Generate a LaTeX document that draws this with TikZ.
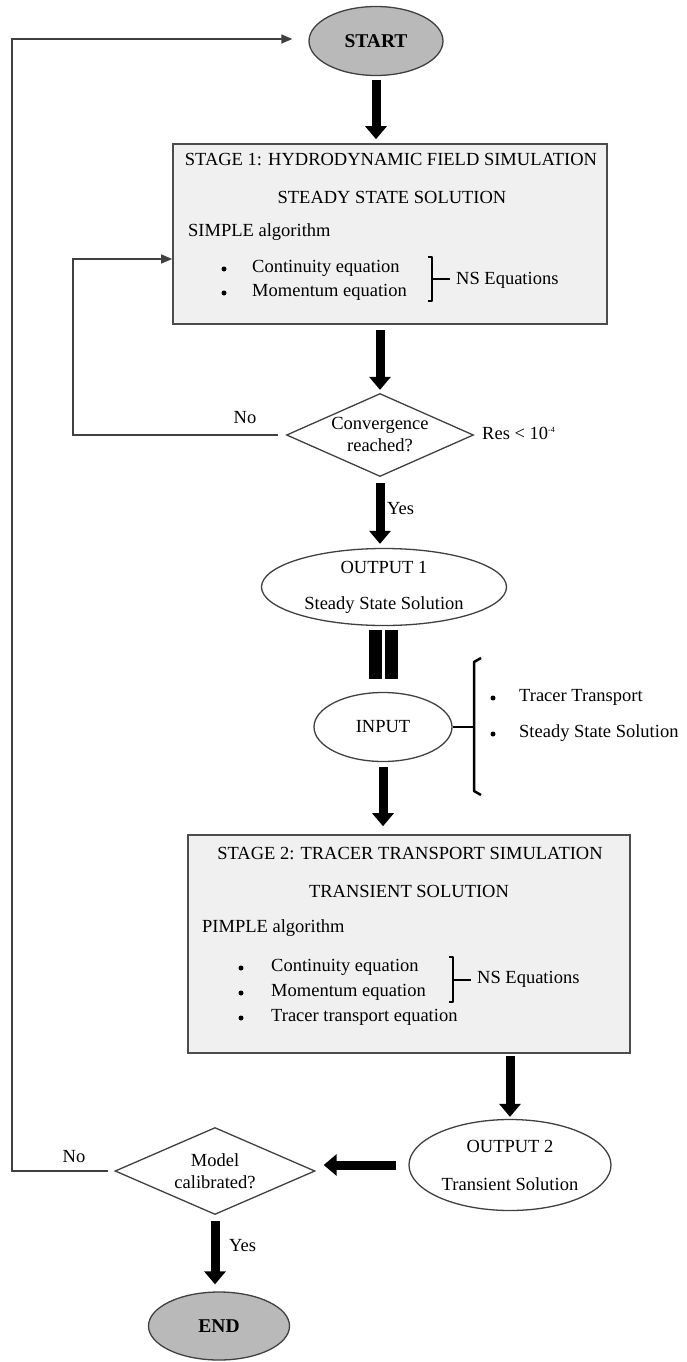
\documentclass[tikz,border=0pt]{standalone}
\usepackage{fontspec}
\setmainfont{Liberation Serif}
\usetikzlibrary{arrows.meta,shapes.geometric}

\begin{document}
\begin{tikzpicture}[x=1pt,y=-1pt,
  txt/.style={inner sep=0pt,font=\fontsize{18.5}{22}\selectfont},
  dot/.style={circle,fill=black,inner sep=0pt,minimum size=5pt},
  term/.style={ellipse,draw=black!75,line width=1.3pt,fill=gray!55,inner sep=0pt,
    font=\fontsize{19.5}{22}\selectfont\bfseries},
  io/.style={ellipse,draw=black!75,line width=1.3pt,fill=white,inner sep=0pt},
  stage/.style={rectangle,draw=black!70,line width=1.6pt,fill=gray!12,inner sep=0pt},
  decision/.style={diamond,draw=black!75,line width=1.3pt,fill=white,inner sep=0pt},
  bigarrow/.style={line width=9pt,-{Triangle[width=21pt,length=13pt]}},
  fbline/.style={draw=black!75,line width=1.3pt,-{Triangle[width=9pt,length=11pt]}},
  brk/.style={line width=2pt,line join=round}]
  \newcommand{\nsbrk}[3]{%
    \draw[brk] (#1-4,#2) -- (#1,#2) -- (#1,#3) -- (#1-4,#3);
    \draw[brk] (#1,{(#2+#3)/2}) -- ++(18,0);
  }
  \useasboundingbox (0,0) rectangle (687,1362);

  % main column
  \node[term,minimum width=134pt,minimum height=69pt] (start) at (376,41) {START};
  \node[stage,minimum width=434pt,minimum height=180pt] (box1) at (390,234) {};
  \node[decision,minimum width=187pt,minimum height=83pt,
    label={[txt,align=center]center:{Convergence\\reached?}}] (conv) at (380,435) {};
  \node[io,minimum width=245pt,minimum height=77pt,
    label={[txt,align=center]center:{OUTPUT 1\\[14pt]Steady State Solution}}] (out1) at (384,587) {};
  \node[io,minimum width=138pt,minimum height=69pt,txt] (input) at (383,727) {INPUT};
  \node[stage,minimum width=442pt,minimum height=218pt] (box2) at (409,944) {};
  \node[io,minimum width=202pt,minimum height=91pt,
    label={[txt,align=center]center:{OUTPUT 2\\[16pt]Transient Solution}}] (out2) at (510,1165) {};
  \node[decision,minimum width=200pt,minimum height=87pt,
    label={[txt,align=center]center:{Model\\calibrated?}}] (model) at (215,1171) {};
  \node[term,minimum width=141pt,minimum height=68pt] (end) at (219,1326) {END};

  % stage 1 text
  \node[txt] (title1) at (391,160) {STAGE 1: HYDRODYNAMIC FIELD SIMULATION};
  \node[txt] (sol1) at (392,197) {STEADY STATE SOLUTION};
  \node[txt,anchor=west] (alg1) at (188,232) {SIMPLE algorithm};
  \foreach \yy/\tt [count=\i] in {268/Continuity equation,292/Momentum equation}{
    \node[dot] (bula\i) at (224,\yy+1) {};
    \node[txt,anchor=west] (eqa\i) at (252,\yy) {\tt};
  }
  \nsbrk{432}{257}{301}
  \node[txt,anchor=west] (nsa) at (456,280) {NS Equations};

  % stage 2 text
  \node[txt] (title2) at (410,853) {STAGE 2: TRACER TRANSPORT SIMULATION};
  \node[txt] (sol2) at (409,891) {TRANSIENT SOLUTION};
  \node[txt,anchor=west] (alg2) at (202,928) {PIMPLE algorithm};
  \foreach \yy/\tt [count=\i] in {967/Continuity equation,992/Momentum equation,
      1017/Tracer transport equation}{
    \node[dot] (bulb\i) at (241,\yy+1) {};
    \node[txt,anchor=west] (eqb\i) at (271,\yy) {\tt};
  }
  \nsbrk{453}{957}{1002}
  \node[txt,anchor=west] (nsb) at (477,979) {NS Equations};

  % input list
  \coordinate (brc) at (474,727);
  \draw[line width=2.5pt] (input.east) -- (brc);
  \draw[line width=2.5pt,line join=round] (481,658) -- (474,662) -- (474,791) -- (481,795);
  \foreach \yy/\tt [count=\i] in {697/Tracer Transport,733/Steady State Solution}{
    \node[dot] (bulc\i) at (493,\yy+1) {};
    \node[txt,anchor=west] (inp\i) at (519,\yy) {\tt};
  }

  % thick arrows
  \draw[bigarrow,shorten <=4pt,shorten >=4pt] (start.south) -- (start.south |- box1.north);
  \draw[bigarrow,shorten <=5pt,shorten >=3pt] (conv.north |- box1.south) -- (conv.north);
  \draw[bigarrow,shorten <=6pt,shorten >=4pt] (conv.south) -- (out1.north -| conv.south);
  \draw[line width=13pt,double=white,double distance=3pt,shorten <=4pt,shorten >=13pt]
    (input.north |- out1.south) -- (input.north);
  \draw[bigarrow,shorten <=5pt,shorten >=8pt] (input.south) -- (input.south |- box2.north);
  \draw[bigarrow,shorten <=2pt,shorten >=2pt] (box2.south -| out2.north) -- (out2.north);
  \draw[bigarrow,shorten <=12pt,shorten >=8pt] (out2.west) -- (model.east |- out2.west);
  \draw[bigarrow,shorten <=6pt,shorten >=7pt] (model.south) -- (end.north -| model.south);

  % feedback loops
  \coordinate (loop1) at (73,259);
  \coordinate (loop2) at (12,39);
  \draw[fbline] ([xshift=-8pt]conv.west) -| (loop1) -- (loop1 -| box1.west);
  \draw[fbline,shorten >=16pt] ([xshift=-6pt]model.west) -| (loop2) -- (loop2 -| start.west);

  % labels
  \node[txt] (no1) at (245,418) {No};
  \node[txt,anchor=west] (res) at (482,433) {Res < 10\textsuperscript{\fontsize{8}{8}\selectfont -4}};
  \node[txt,anchor=west] (yes1) at (387,509) {Yes};
  \node[txt] (no2) at (74,1157) {No};
  \node[txt,anchor=west] (yes2) at (229,1246) {Yes};
\end{tikzpicture}
\end{document}
